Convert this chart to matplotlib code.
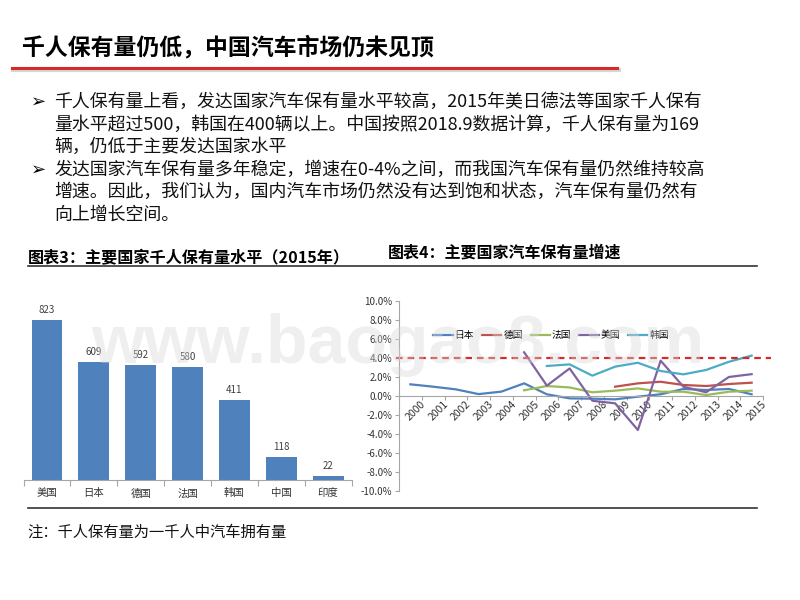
import numpy as np
import matplotlib
matplotlib.use('Agg')
import matplotlib.pyplot as plt
from matplotlib.lines import Line2D
from matplotlib.transforms import ScaledTranslation

plt.rcParams['font.family'] = ['Noto Sans CJK SC', 'DejaVu Sans']

# data
countries = ['美国', '日本', '德国', '法国', '韩国', '中国', '印度']
per_thousand = [823, 609, 592, 580, 411, 118, 22]

years = [str(y) for y in range(2000, 2016)]
japan = [1.23, 0.98, 0.70, 0.20, 0.46, 1.33, 0.18, -0.25, -0.28, -0.35, -0.07, 0.18, 0.74, 0.63, 0.74, 0.18]
germany = [None] * 9 + [0.98, 1.33, 1.50, 1.16, 1.05, 1.26, 1.40]
france = [None] * 5 + [0.60, 1.05, 0.90, 0.39, 0.56, 0.80, 0.45, 0.45, 0.10, 0.45, 0.56]
usa = [None] * 5 + [4.60, 1.09, 2.90, -0.50, -0.77, -3.58, 3.72, 0.98, 0.39, 2.00, 2.30]
korea = [None] * 6 + [3.16, 3.33, 2.14, 3.09, 3.50, 2.63, 2.28, 2.74, 3.60, 4.25]
series = [('日本', japan, '#4F81BD'), ('德国', germany, '#C0504D'), ('法国', france, '#9BBB59'),
          ('美国', usa, '#8064A2'), ('韩国', korea, '#4BACC6')]
ref_level = 4.0

title = '千人保有量仍低，中国汽车市场仍未见顶'
body = [
    (True, '千人保有量上看，发达国家汽车保有量水平较高，2015年美日德法等国家千人保有'),
    (False, '量水平超过500，韩国在400辆以上。中国按照2018.9数据计算，千人保有量为169'),
    (False, '辆，仍低于主要发达国家水平'),
    (True, '发达国家汽车保有量多年稳定，增速在0-4%之间，而我国汽车保有量仍然维持较高'),
    (False, '增速。因此，我们认为，国内汽车市场仍然没有达到饱和状态，汽车保有量仍然有'),
    (False, '向上增长空间。'),
]
title3 = '图表3：主要国家千人保有量水平（2015年）'
title4 = '图表4：主要国家汽车保有量增速'
note = '注：千人保有量为一千人中汽车拥有量'

W, H = 800, 600


def fx(x):
    return x / W


def fy(y):
    return 1 - y / H


fig = plt.figure(figsize=(8, 6), dpi=100)

# slide header
fig.text(fx(22), fy(48), title, fontsize=16.5, fontweight='bold', va='center', ha='left')
fig.add_artist(Line2D([fx(13), fx(619)], [fy(70), fy(70)], color='#bbbbbb', lw=3, alpha=0.6))
fig.add_artist(Line2D([fx(12), fx(617)], [fy(68), fy(68)], color='#d42a2a', lw=2.2))

y = 102
for bullet, line in body:
    if bullet:
        fig.text(fx(31), fy(y), '➢', fontsize=13, family='DejaVu Sans', va='center', ha='left')
    fig.text(fx(54), fy(y), line, fontsize=12.9, va='center', ha='left', color='#111111')
    y += 22.5

# chart headings
fig.text(fx(28), fy(258), title3, fontsize=11.6, fontweight='bold', va='center', ha='left')
fig.text(fx(388), fy(253), title4, fontsize=11.5, fontweight='bold', va='center', ha='left')
fig.add_artist(Line2D([fx(28), fx(757)], [fy(266), fy(266)], color='#333333', lw=1.2))
fig.add_artist(Line2D([fx(28), fx(757)], [fy(508), fy(508)], color='#333333', lw=1.2))

# bar chart
ax1 = fig.add_axes([fx(23.6), fy(480), 328 / W, 175 / H])
xb = np.arange(len(countries))
ax1.bar(xb, per_thousand, width=0.66, color='#4F81BD', zorder=2)
for xi, v in zip(xb, per_thousand):
    ax1.text(xi, v + 25, str(v), ha='center', va='bottom', fontsize=7, color='#404040')
ax1.set_xlim(-0.5, len(countries) - 0.5)
ax1.set_ylim(0, 900)
for s in ['top', 'right', 'left']:
    ax1.spines[s].set_visible(False)
ax1.spines['bottom'].set_color('#a6a6a6')
ax1.set_yticks([])
ax1.set_xticks(np.arange(len(countries) + 1) - 0.5)
ax1.set_xticklabels([])
ax1.tick_params(axis='x', which='major', length=4, color='#a6a6a6')
ax1.set_xticks(xb, minor=True)
ax1.set_xticklabels(countries, minor=True, fontsize=7.5, color='#333333')
ax1.tick_params(axis='x', which='minor', length=0, pad=6)
ax1.patch.set_visible(False)

# line chart
ax2 = fig.add_axes([fx(399), fy(491), 364 / W, 190 / H])
xl = np.arange(len(years)) + 0.5
for name, vals, col in series:
    ax2.plot(xl, np.array(vals, dtype=float), color=col, lw=1.6, label=name)
ax2.plot([-0.12, 16.35], [ref_level, ref_level], color='#d42a2a', lw=1.6,
         dashes=(3, 2.2), clip_on=False)
ax2.set_xlim(0, len(years))
ax2.set_ylim(-10, 10)
ax2.set_yticks(np.arange(-10, 10.1, 2))
ax2.set_yticklabels(['%.1f%%' % v for v in np.arange(-10, 10.1, 2)], fontsize=7, color='#333333')
ax2.tick_params(axis='y', length=3, color='#a6a6a6', pad=2)
for s in ['top', 'right']:
    ax2.spines[s].set_visible(False)
ax2.spines['left'].set_color('#a6a6a6')
ax2.spines['bottom'].set_color('#a6a6a6')
ax2.spines['bottom'].set_position(('data', 0))
ax2.set_xticks(np.arange(len(years) + 1))
ax2.set_xticklabels([])
ax2.tick_params(axis='x', which='major', length=3, color='#a6a6a6')
ax2.set_xticks(xl, minor=True)
ax2.set_xticklabels(years, minor=True, fontsize=7.5, color='#333333', rotation=45,
                    ha='right', va='top', rotation_mode='anchor')
ax2.tick_params(axis='x', which='minor', length=0, pad=2)
for lab in ax2.get_xticklabels(minor=True):
    lab.set_transform(lab.get_transform() + ScaledTranslation(7 / 72, 0, fig.dpi_scale_trans))
ax2.legend(ncol=5, loc='center left', bbox_to_anchor=(0.07, 0.82), frameon=False,
           fontsize=7, handlelength=2.0, handletextpad=0.2, columnspacing=0.8)
ax2.patch.set_visible(False)

# watermark
fig.text(fx(398), fy(345), 'www.baogao8.com', fontsize=49, family='Liberation Sans',
         fontweight='bold', color='#d8d8d8', alpha=0.4, ha='center', va='center', zorder=10)

fig.text(fx(27), fy(532), note, fontsize=11, va='center', ha='left', color='#111111')

fig.savefig('out.png', dpi=100)
